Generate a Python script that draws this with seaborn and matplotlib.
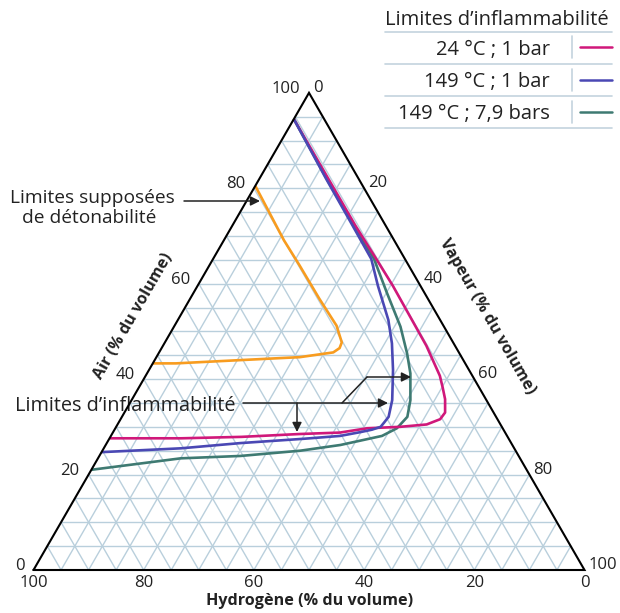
import numpy as np
import pandas as pd
import matplotlib
matplotlib.use("Agg")
import matplotlib.pyplot as plt
import seaborn as sns

# readings from the diagram: hydrogen % and air % (vapour = the rest)
pink_h = [5.5, 5.5, 5.5, 5.2, 5.0, 5.1, 5.2, 5.9, 6.6, 7.4, 8.8, 10.4, 13.4, 18.5, 24.6, 30.0, 37.4, 48.3, 59.4, 72.4]
pink_a = [94.5, 82.0, 72.2, 65.2, 59.6, 53.3, 47.0, 40.7, 38.3, 35.8, 33.0, 31.6, 30.5, 30.0, 29.7, 28.8, 28.5, 27.9, 27.6, 27.6]

blue_h = [5.5, 5.9, 6.0, 6.1, 7.7, 9.4, 11.2, 13.8, 17.1, 19.5, 20.8, 22.0, 23.9, 26.2, 30.3, 37.2, 49.1, 60.5, 75.3]
blue_a = [94.5, 82.0, 72.2, 65.2, 59.6, 52.4, 47.5, 41.9, 35.6, 32.1, 31.0, 30.0, 29.4, 28.9, 28.1, 27.5, 26.6, 25.5, 24.7]

green_h = [5.5, 5.8, 5.8, 5.6, 6.8, 7.9, 9.5, 11.0, 13.8, 16.1, 19.2, 22.7, 31.2, 39.1, 50.5, 61.6, 79.0]
green_a = [94.5, 82.0, 72.2, 65.2, 58.2, 51.0, 45.4, 41.2, 35.6, 32.1, 29.7, 28.1, 26.2, 25.0, 23.9, 23.4, 21.0]

orange_h = [19.5, 20.0, 19.8, 19.7, 19.4, 20.2, 21.2, 22.8, 29.4, 33.1, 45.5, 52.5, 56.7]
orange_a = [80.5, 69.1, 63.9, 56.8, 51.2, 47.7, 46.5, 45.6, 44.6, 44.4, 43.7, 43.3, 43.3]

series_names = ["24 °C ; 1 bar", "149 °C ; 1 bar", "149 °C ; 7,9 bars", "Détonabilité"]
series_colors = ["#d0187a", "#4a48b4", "#3e7a72", "#f89c1f"]
draw_order = ["149 °C ; 7,9 bars", "24 °C ; 1 bar", "149 °C ; 1 bar", "Détonabilité"]

ticks = [0, 20, 40, 60, 80, 100]

SQ = np.sqrt(3) / 2
GRID = "#b9cfdc"
INK = "#222222"


def to_xy(h, a):
    h = np.asarray(h, float)
    a = np.asarray(a, float)
    v = 100 - h - a
    return v + a / 2, a * SQ


def px(xp, yp):
    # pixel position of the reference -> axes data units
    return (xp - 33.5) / 5.51, (570 - yp) / 5.51


sns.set_style("white")
plt.rcParams["font.family"] = ["Open Sans", "DejaVu Sans"]

fig = plt.figure(figsize=(6.2, 6.13), dpi=100)
ax = fig.add_axes([0, 0, 1, 1])
ax.set_xlim(-33.5 / 5.51, (620 - 33.5) / 5.51)
ax.set_ylim(-(613 - 570) / 5.51, 570 / 5.51)
ax.axis("off")

# triangular grid every 5 %
for f in range(5, 100, 5):
    for (h0, a0), (h1, a1) in [((100 - f, f), (0, f)),
                               ((f, 100 - f), (f, 0)),
                               ((100 - f, 0), (0, 100 - f))]:
        x, y = to_xy([h0, h1], [a0, a1])
        ax.plot(x, y, color=GRID, lw=1.0, zorder=1)

# curves
frames = []
for name, hs, as_ in zip(series_names, [pink_h, blue_h, green_h, orange_h],
                         [pink_a, blue_a, green_a, orange_a]):
    x, y = to_xy(hs, as_)
    frames.append(pd.DataFrame({"x": x, "y": y, "serie": name}))
df = pd.concat(frames, ignore_index=True)
sns.lineplot(data=df, x="x", y="y", hue="serie", hue_order=draw_order,
             palette=dict(zip(series_names, series_colors)),
             sort=False, estimator=None, legend=False, lw=1.9, ax=ax, zorder=3)
for ln in ax.lines[-4:]:
    ln.set_solid_joinstyle("round")
    ln.set_solid_capstyle("butt")

# triangle border
x, y = to_xy([100, 0, 0, 100], [0, 0, 100, 0])
ax.plot(x, y, color="black", lw=1.5, zorder=4, solid_joinstyle="miter")

# tick labels
d = 1 / 5.51
for t in ticks:
    # air (left side)
    x, y = to_xy(100 - t, t)
    ax.text(x - 9 * d, y + 4 * d, str(t), ha="right", va="center", fontsize=12, color=INK)
    # vapour (right side)
    x, y = to_xy(0, 100 - t)
    ax.text(x + 4 * d, y + 5 * d, str(t), ha="left", va="center", fontsize=12, color=INK)
    # hydrogen (bottom)
    x, y = to_xy(t, 0)
    ax.text(x, y - 13 * d, str(t), ha="center", va="center", fontsize=12, color=INK)

ax.text(*px(310, 601), "Hydrogène (% du volume)", ha="center", va="center",
        fontsize=11.6, fontweight="bold", color=INK)
ax.text(*px(133, 316), "Air (% du volume)", ha="center", va="center", rotation=60,
        rotation_mode="anchor", fontsize=11.6, fontweight="bold", color=INK)
ax.text(*px(487, 317), "Vapeur (% du volume)", ha="center", va="center", rotation=-60,
        rotation_mode="anchor", fontsize=11.6, fontweight="bold", color=INK)

# annotations
arrow = dict(arrowstyle="-|>", color=INK, lw=1.1, mutation_scale=14, shrinkA=0, shrinkB=0)
ax.text(*px(10, 203), "Limites supposées", ha="left", va="baseline", fontsize=13.8, color=INK)
ax.text(*px(22, 223), "de détonabilité", ha="left", va="baseline", fontsize=13.8, color=INK)
ax.annotate("", xy=px(260, 201), xytext=px(184, 201), arrowprops=arrow, zorder=5)

ax.text(*px(15, 411), "Limites d’inflammabilité", ha="left", va="baseline", fontsize=14.3, color=INK)
ax.annotate("", xy=px(388, 403), xytext=px(243, 403), arrowprops=arrow, zorder=5)
ax.annotate("", xy=px(297, 432), xytext=px(297, 403), arrowprops=arrow, zorder=5)
bx, by = zip(px(342, 403), px(367, 377))
ax.plot(bx, by, color=INK, lw=1.1, zorder=5)
ax.annotate("", xy=px(411, 377), xytext=px(367, 377), arrowprops=arrow, zorder=5)

# legend box
ax.text(*px(385, 25), "Limites d’inflammabilité", ha="left", va="baseline", fontsize=14.5, color=INK)
for ys in [32, 64, 96.5, 128]:
    lx, ly = zip(px(385, ys), px(612, ys))
    ax.plot(lx, ly, color="#c3d3de", lw=1.2)
for name, col, yc, yb in zip(series_names[:3], series_colors[:3], [47, 80, 112], [55, 87.5, 119]):
    ax.text(*px(550, yb), name, ha="right", va="baseline", fontsize=14.5, color=INK)
    vx, vy = zip(px(572, yc - 11), px(572, yc + 11))
    ax.plot(vx, vy, color="#c3d3de", lw=1.2)
    cx, cy = zip(px(580, yc), px(612, yc))
    ax.plot(cx, cy, color=col, lw=1.8)

fig.savefig("out.png", dpi=100)
